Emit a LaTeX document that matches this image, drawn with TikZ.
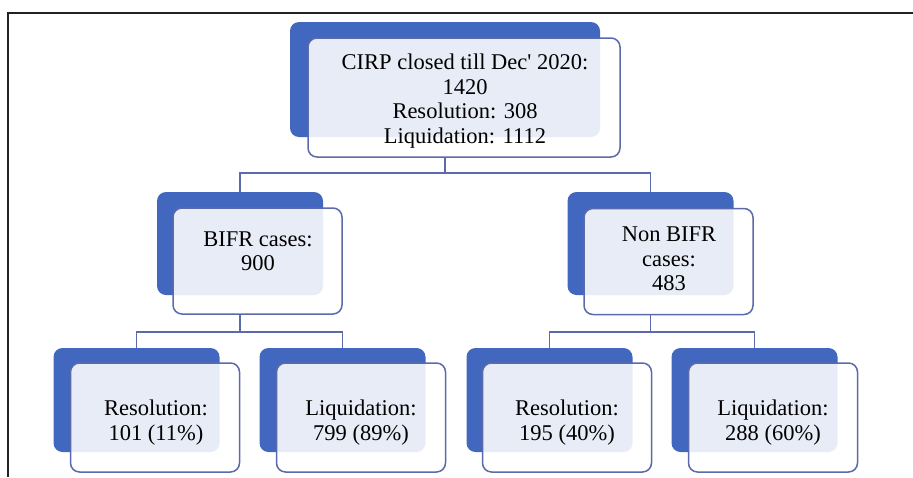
\documentclass[tikz,border=0pt]{standalone}
\usepackage{fontspec}
\setmainfont{Liberation Serif}
\definecolor{darkblue}{HTML}{4267BE}
\definecolor{edgeblue}{HTML}{5A6AAC}
\definecolor{frameblack}{HTML}{222222}
\begin{document}
\begin{tikzpicture}[x=1pt,y=-1pt,
  back/.style={draw=none,fill=darkblue,rounded corners=9pt,inner sep=0pt},
  front/.style={draw=edgeblue,line width=1.5pt,fill=white,fill opacity=0.88,rounded corners=9pt,inner sep=0pt},
  label/.style={align=center,font=\fontsize{22.5}{24.5}\selectfont,text=black,inner sep=0pt},
  leaflabel/.style={label,font=\fontsize{22.5}{25}\selectfont},
  conn/.style={draw=edgeblue,line width=1.3pt},
  smallback/.style={back,minimum width=166pt,minimum height=103pt},
  smallfront/.style={front,minimum width=169pt,minimum height=106pt},
  leafback/.style={back,minimum width=166pt,minimum height=104pt},
  leaffront/.style={front,minimum width=169pt,minimum height=109pt}]
\useasboundingbox (0,0) rectangle (913,477);
% frame
\draw[frameblack,line width=2pt] (913,12.5) -- (8,12.5) -- (8,477);
% top
\node[back,minimum width=310pt,minimum height=115pt] (topb) at (445,79.5) {};
\node[front,minimum width=312pt,minimum height=119pt] (topf) at (464,97.5) {};
\node[label] (topt) at (465,101) {CIRP closed till Dec\textquotesingle{} 2020:\\1420\\Resolution: 308\\Liquidation: 1112};
% second level
\node[smallback] (bifrb) at (240,243.5) {};
\node[smallfront] (bifrf) at (257.5,261) {};
\node[label] (bifrt) at (258,251) {BIFR cases:\\900};
\node[smallback] (nbifrb) at (650.5,243.5) {};
\node[smallfront] (nbifrf) at (668.5,261.5) {};
\node[label] (nbifrt) at (669,259) {Non BIFR\\cases:\\483};
% leaves
\node[leafback] (l1b) at (136.5,400) {};
\node[leaffront] (l1f) at (155,417.5) {};
\node[leaflabel] (l1t) at (156,423) {Resolution:\\101 (11\%)};
\node[leafback] (l2b) at (342.5,400) {};
\node[leaffront] (l2f) at (361,417.5) {};
\node[leaflabel] (l2t) at (361,423) {Liquidation:\\799 (89\%)};
\node[leafback] (l3b) at (549.5,400) {};
\node[leaffront] (l3f) at (567,417.5) {};
\node[leaflabel] (l3t) at (567,423) {Resolution:\\195 (40\%)};
\node[leafback] (l4b) at (754.5,400) {};
\node[leaffront] (l4f) at (773,417.5) {};
\node[leaflabel] (l4t) at (773,423) {Liquidation:\\288 (60\%)};
% connectors
\coordinate (bus0) at (445,173);
\coordinate (bus1) at (240,332);
\coordinate (bus2) at (650.5,332);
\draw[conn] (topb.center |- topf.south) -- (bus0);
\draw[conn] (bus0) -| (bifrb.north);
\draw[conn] (bus0) -| (nbifrb.north);
\draw[conn] (bifrb.center |- bifrf.south) -- (bus1);
\draw[conn] (bus1) -| (l1b.north);
\draw[conn] (bus1) -| (l2b.north);
\draw[conn] (nbifrb.center |- nbifrf.south) -- (bus2);
\draw[conn] (bus2) -| (l3b.north);
\draw[conn] (bus2) -| (l4b.north);
\end{tikzpicture}
\end{document}
